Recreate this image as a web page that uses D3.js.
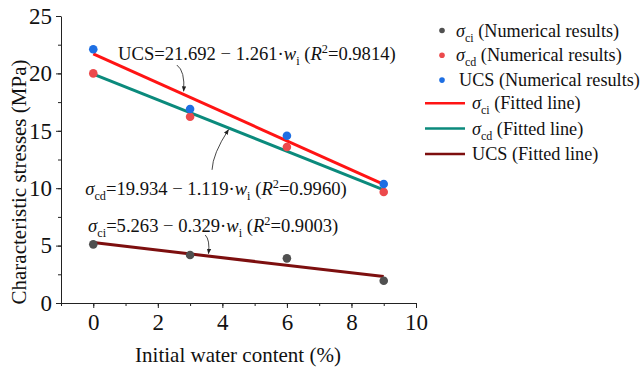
<!DOCTYPE html>
<html>
<head>
<meta charset="utf-8">
<script src="https://cdn.jsdelivr.net/npm/d3@7"></script>
<style>
  body { margin: 0; background: #fff; }
  .axis path, .axis line { stroke: #222; }
</style>
</head>
<body>
<svg id="chart" width="644" height="367"></svg>
<script>
// data
var waterContent = [0, 3, 6, 9];
var sigmaCi = [5.11, 4.18, 3.89, 1.94];
var sigmaCd = [20.0, 16.23, 13.59, 9.67];
var ucs = [22.1, 16.9, 14.57, 10.37];

// fitted lines: intercept, slope
var fitUcs = [21.692, -1.261];
var fitCd = [19.934, -1.119];
var fitCi = [5.263, -0.329];

var xTicks = [0, 2, 4, 6, 8, 10];
var yTicks = [0, 5, 10, 15, 20, 25];

var FONT = "'Liberation Serif'";

var svg = d3.select("#chart");

var x = d3.scaleLinear().domain([-1, 10]).range([61, 416]);
var y = d3.scaleLinear().domain([0, 25]).range([303, 16]);

// axes
svg.append("g").attr("class", "axis")
  .attr("transform", "translate(0,303)")
  .call(d3.axisBottom(x).tickValues(d3.range(-1, 11, 1)).tickSize(3).tickSizeOuter(0).tickFormat(""))
  .call(g => g.selectAll("path").remove());
var xa = svg.append("g").attr("class", "axis")
  .attr("transform", "translate(0,303)")
  .call(d3.axisBottom(x).tickValues(xTicks).tickSize(5).tickSizeOuter(0).tickPadding(6));
xa.selectAll("text").style("font-size", "23px").style("font-family", FONT).attr("fill", "#111");

svg.append("g").attr("class", "axis")
  .attr("transform", "translate(61,0)")
  .call(d3.axisLeft(y).tickValues(d3.range(0, 25.1, 2.5)).tickSize(3).tickSizeOuter(0).tickFormat(""))
  .call(g => g.selectAll("path").remove());
var ya = svg.append("g").attr("class", "axis")
  .attr("transform", "translate(61,0)")
  .call(d3.axisLeft(y).tickValues(yTicks).tickSize(5).tickSizeOuter(0).tickPadding(4));
ya.selectAll("text").style("font-size", "23px").style("font-family", FONT).attr("fill", "#111");

// axis titles
svg.append("text")
  .attr("transform", "translate(26,182) rotate(-90)")
  .attr("text-anchor", "middle")
  .style("font-family", FONT)
  .style("font-size", "21px")
  .attr("fill", "#111")
  .text("Characteristic stresses (MPa)");
svg.append("text")
  .attr("x", 238).attr("y", 362)
  .attr("text-anchor", "middle")
  .style("font-family", FONT)
  .style("font-size", "21px")
  .attr("fill", "#111")
  .text("Initial water content (%)");

// fitted lines
var fits = [
  { f: fitUcs, color: "#ff1414" },
  { f: fitCd, color: "#0b8a7c" },
  { f: fitCi, color: "#7d0f0f" }
];
var line = d3.line().x(d => x(d[0])).y(d => y(d[1]));
fits.forEach(function(s) {
  var pts = [0, 9].map(w => [w, s.f[0] + s.f[1] * w]);
  svg.append("path").attr("d", line(pts))
    .attr("fill", "none").attr("stroke", s.color).attr("stroke-width", 3);
});

// points
var series = [
  { v: sigmaCi, color: "#505050" },
  { v: sigmaCd, color: "#ec4a4c" },
  { v: ucs, color: "#1e6fe3" }
];
series.forEach(function(s) {
  svg.append("g").selectAll("circle")
    .data(waterContent)
    .enter().append("circle")
    .attr("cx", (d, i) => x(d))
    .attr("cy", (d, i) => y(s.v[i]))
    .attr("r", 4.3)
    .attr("fill", s.color);
});

// rich text helper: parts {t, it, sub, sup}
function richText(g, px, py, size, parts) {
  var t = g.append("text").attr("x", px).attr("y", py)
    .style("font-family", FONT).style("font-size", size + "px").attr("fill", "#111");
  var shift = 0;
  parts.forEach(function(p) {
    var target = 0;
    var fs = size;
    if (p.sub) { target = size * 0.28; fs = size * 0.66; }
    if (p.sup) { target = -size * 0.38; fs = size * 0.66; }
    var ts = t.append("tspan").attr("dy", target - shift).style("font-size", fs + "px").text(p.t);
    if (p.it) ts.style("font-style", "italic");
    shift = target;
  });
  return t;
}

// annotations
var ann = svg.append("g");
richText(ann, x(0.77), y(21.17), 18.6, [
  { t: "UCS=21.692 \u2212 1.261\u00b7" }, { t: "w", it: 1 }, { t: "i", sub: 1 },
  { t: " (" }, { t: "R", it: 1 }, { t: "2", sup: 1 }, { t: "=0.9814)" }
]);
richText(ann, x(-0.25), y(9.41), 18.6, [
  { t: "\u03c3", it: 1 }, { t: "cd", sub: 1 }, { t: "=19.934 \u2212 1.119\u00b7" }, { t: "w", it: 1 }, { t: "i", sub: 1 },
  { t: " (" }, { t: "R", it: 1 }, { t: "2", sup: 1 }, { t: "=0.9960)" }
]);
richText(ann, x(-0.16), y(6.21), 18.6, [
  { t: "\u03c3", it: 1 }, { t: "ci", sub: 1 }, { t: "=5.263 \u2212 0.329\u00b7" }, { t: "w", it: 1 }, { t: "i", sub: 1 },
  { t: " (" }, { t: "R", it: 1 }, { t: "2", sup: 1 }, { t: "=0.9003)" }
]);

svg.append("defs").append("marker")
  .attr("id", "arr").attr("viewBox", "0 0 10 10").attr("refX", 9).attr("refY", 5)
  .attr("markerWidth", 6).attr("markerHeight", 6).attr("orient", "auto")
  .append("path").attr("d", "M0,1 L10,5 L0,9 Z").attr("fill", "#222");

var arrows = [
  [[2.59, 20.73], [2.85, 20.2], [2.80, 18.45]],
  [[3.68, 11.6], [3.7, 13.0], [4.19, 15.1]],
  [[3.47, 5.92], [3.62, 5.5], [3.57, 4.3]]
];
arrows.forEach(function(a) {
  var p = d3.path();
  p.moveTo(x(a[0][0]), y(a[0][1]));
  p.quadraticCurveTo(x(a[1][0]), y(a[1][1]), x(a[2][0]), y(a[2][1]));
  svg.append("path").attr("d", p.toString()).attr("fill", "none")
    .attr("stroke", "#333").attr("stroke-width", 0.9).attr("marker-end", "url(#arr)");
});

// legend
var legendSym = [
  { sub: "ci", label: " (Numerical results)", color: "#505050" },
  { sub: "cd", label: " (Numerical results)", color: "#ec4a4c" },
  { sub: null, label: "UCS (Numerical results)", color: "#1e6fe3" }
];
var legendLine = [
  { sub: "ci", label: " (Fitted line)", color: "#ff1414" },
  { sub: "cd", label: " (Fitted line)", color: "#0b8a7c" },
  { sub: null, label: "UCS (Fitted line)", color: "#7d0f0f" }
];
var leg = svg.append("g");
legendSym.forEach(function(d, i) {
  var yy = 30.5 + i * 24.8;
  leg.append("circle").attr("cx", 442).attr("cy", yy).attr("r", 2.8).attr("fill", d.color);
  var parts = d.sub ? [{ t: "\u03c3", it: 1 }, { t: d.sub, sub: 1 }, { t: d.label }] : [{ t: d.label }];
  richText(leg, d.sub ? 456 : 459, yy + 6, 18.2, parts);
});
legendLine.forEach(function(d, i) {
  var yy = 103.3 + i * 25.3;
  leg.append("line").attr("x1", 425).attr("x2", 465).attr("y1", yy).attr("y2", yy)
    .attr("stroke", d.color).attr("stroke-width", 2.5);
  var parts = d.sub ? [{ t: "\u03c3", it: 1 }, { t: d.sub, sub: 1 }, { t: d.label }] : [{ t: d.label }];
  richText(leg, d.sub ? 472 : 472, yy + 6, 18.2, parts);
});
</script>
</body>
</html>
